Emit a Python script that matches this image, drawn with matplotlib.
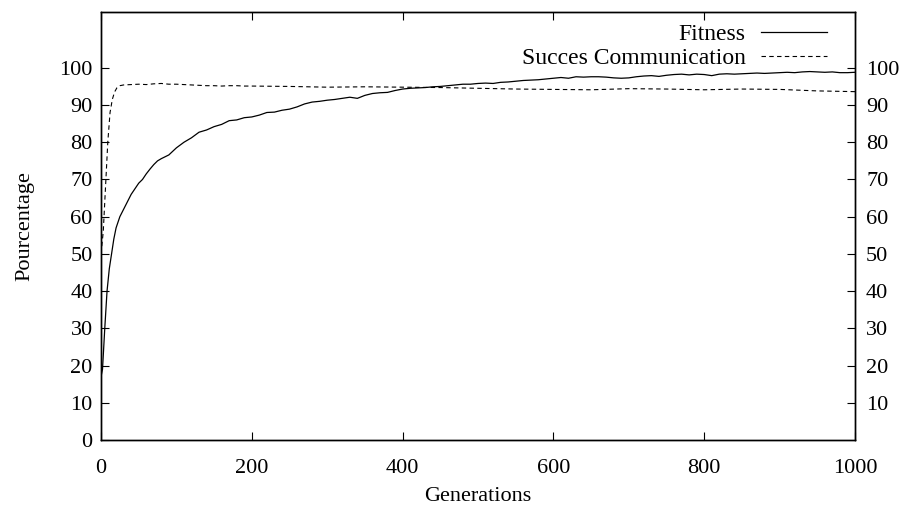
import numpy as np
import matplotlib.pyplot as plt

plt.rcParams['font.family'] = ['Liberation Serif', 'DejaVu Serif']
plt.rcParams['mathtext.fontset'] = 'stix'

# Fitness curve
fit_gen = [0, 2, 5, 8, 11, 14, 17, 20, 25, 30, 35, 40, 45, 50, 55, 60, 65, 70, 75, 80,
           90, 100, 110, 120, 130, 140, 150, 160, 170, 180, 190, 200, 210, 220, 230, 240,
           250, 260, 270, 280, 290, 300, 310, 320, 330, 340, 350, 360, 370, 380, 390, 400,
           410, 420, 430, 440, 450, 460, 470, 480, 490, 500, 510, 520, 530, 540, 550, 560,
           570, 580, 590, 600, 610, 620, 630, 640, 650, 660, 670, 680, 690, 700, 710, 720,
           730, 740, 750, 760, 770, 780, 790, 800, 810, 820, 830, 840, 850, 860, 870, 880,
           890, 900, 910, 920, 930, 940, 950, 960, 970, 980, 990, 1000]
fitness = [17, 19, 30, 40, 46, 50, 54, 57, 60, 62, 64, 66, 67.5, 69, 70, 71.5, 72.8, 74, 75, 75.6,
           76.6, 78.5, 80, 81.2, 82.7, 83.3, 84.2, 84.8, 85.8, 86.0, 86.6, 86.8, 87.3, 88.0, 88.1, 88.6,
           88.9, 89.5, 90.3, 90.8, 91.0, 91.3, 91.5, 91.8, 92.1, 91.8, 92.6, 93.1, 93.3, 93.4, 93.9, 94.3,
           94.5, 94.6, 94.7, 94.9, 95.0, 95.2, 95.4, 95.6, 95.6, 95.8, 95.9, 95.8, 96.1, 96.2, 96.4, 96.6,
           96.7, 96.8, 97.0, 97.2, 97.4, 97.2, 97.6, 97.5, 97.6, 97.6, 97.5, 97.3, 97.2, 97.3, 97.6, 97.8,
           97.9, 97.7, 98.0, 98.2, 98.3, 98.1, 98.3, 98.2, 97.9, 98.3, 98.4, 98.3, 98.4, 98.5, 98.6, 98.5,
           98.6, 98.7, 98.8, 98.7, 98.9, 99.0, 98.9, 98.8, 98.9, 98.7, 98.7, 98.8]

# Communication success curve
com_gen = [0, 3, 6, 9, 12, 15, 18, 21, 25, 30, 40, 50, 60, 70, 80, 90, 100, 110, 120, 130,
           140, 150, 160, 170, 180, 190, 200, 250, 300, 350, 400, 450, 500, 550, 600, 650,
           700, 750, 800, 850, 900, 950, 1000]
communication = [50, 56, 68, 80, 88, 91.5, 93.5, 94.6, 95.2, 95.4, 95.5, 95.6, 95.5, 95.7, 95.8, 95.6,
                 95.6, 95.5, 95.4, 95.3, 95.2, 95.2, 95.1, 95.2, 95.2, 95.1, 95.1, 95.0, 94.8, 94.9,
                 94.8, 94.7, 94.5, 94.3, 94.2, 94.1, 94.4, 94.3, 94.1, 94.3, 94.2, 93.8, 93.6]

fig = plt.figure(figsize=(9.05, 5.09), dpi=100)
ax = fig.add_axes([101 / 905, 69 / 509, 754 / 905, 428 / 509])

ax.plot(fit_gen, fitness, color='black', lw=0.9, label='Fitness')
ax.plot(com_gen, communication, color='black', lw=0.8, dashes=(4, 3),
        label='Succes Communication')

ax.set_xlim(0, 1000)
ax.set_ylim(0, 115)
ax.set_xticks([0, 200, 400, 600, 800, 1000])
ax.set_yticks(range(0, 101, 10))
ax.tick_params(axis='both', direction='in', length=6, width=0.8, labelsize=16,
               top=True, right=False)
ax.tick_params(axis='x', pad=14)
ax.tick_params(axis='y', pad=6)
ax.set_xlabel('Generations', fontsize=16, labelpad=6)
ax.set_ylabel('Pourcentage', fontsize=16, labelpad=18)

ax2 = ax.twinx()
ax2.set_ylim(0, 115)
ax2.set_yticks(range(10, 101, 10))
ax2.tick_params(axis='y', direction='in', length=6, width=0.8, labelsize=16, pad=8)

for a in (ax, ax2):
    for s in a.spines.values():
        s.set_linewidth(1.0)

ax.legend(loc='upper right', bbox_to_anchor=(0.963, 0.973), frameon=False, fontsize=17,
          markerfirst=False, handlelength=2.8, handletextpad=0.65, labelspacing=0.12,
          borderpad=0, borderaxespad=0)

fig.savefig('out.png', dpi=100)
